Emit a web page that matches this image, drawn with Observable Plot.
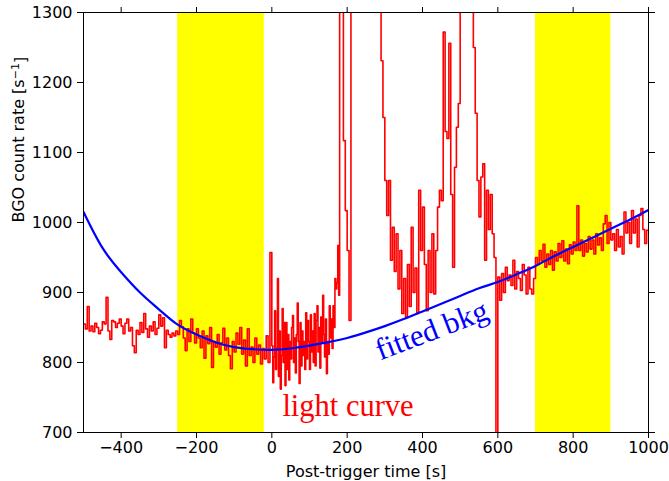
<!DOCTYPE html>
<html><head><meta charset="utf-8">
<script src="https://cdn.jsdelivr.net/npm/d3@7"></script>
<script src="https://cdn.jsdelivr.net/npm/@observablehq/plot@0.6"></script>
<style>body{margin:0;background:#fff} svg{display:block}</style>
</head><body><div id="chart"></div>
<script>
// ---- data ----
const xTicks = [-400, -200, 0, 200, 400, 600, 800, 1000];
const yTicks = [700, 800, 900, 1000, 1100, 1200, 1300];
const bandStart = [-250, 700];
const bandEnd = [-20, 900];

// light curve, segment A (-500..0, 5 s bins)
const lcStartA = -500, lcStepA = 5;
const lcValuesA = [855,848,880,845,852,844,856,850,841,846,858,855,893,845,833,860,858,850,856,862,
852,841,856,862,845,850,824,814,846,840,857,843,870,848,836,852,845,858,840,849,
868,852,864,821,846,840,836,842,838,845,840,860,851,835,817,848,830,862,842,828,
848,835,821,845,806,838,827,850,793,830,822,840,812,828,849,818,835,810,791,830,
815,842,826,850,812,832,795,848,810,822,800,835,812,825,798,820,805,838,800,957];
// segment B (0..180, 2.5 s bins)
const lcStartB = 0, lcStepB = 2.5;
const lcValuesB = [824,771,808,874,790,820,920,780,845,762,810,877,800,857,767,857,790,840,775,830,
805,850,867,800,835,785,840,885,830,770,857,795,845,810,830,790,871,805,860,830,
790,868,815,845,800,870,795,860,881,815,850,792,865,830,896,840,808,862,784,830,
812,881,835,862,820,881,850,920,905,914,967,896];
// segment C (180..1000, 5 s bins)
const lcStartC = 180, lcStepC = 5;
const lcValuesC = [1500,1450,1117,1017,960,860,1600,1750,1850,1900,1950,1950,1900,1850,1800,1750,1700,1600,1550,1500,
1450,1380,1231,1150,1060,1010,1060,946,993,930,984,905,960,870,920,865,940,880,993,900,
935,870,1046,960,1022,940,874,960,900,984,898,960,1022,1046,1031,1272,1130,1120,1256,1040,
936,1079,1136,1170,1500,1700,1800,1800,1700,1600,1450,1250,1156,1060,1008,1065,1084,946,1046,990,
1040,984,950,500,922,889,927,900,936,917,925,910,946,905,930,920,903,940,925,898,
936,905,898,920,950,940,960,945,969,936,955,940,960,932,958,945,970,950,974,945,
962,941,968,955,972,960,1024,960,975,952,970,958,980,962,975,955,984,968,978,960,
998,1010,970,1000,975,984,960,990,965,980,955,1015,985,1000,970,1017,985,1005,965,1010,
1020,990,970,989];

// fitted background
const bkgTime = [-500,-450,-400,-350,-300,-250,-200,-150,-100,-50,0,50,100,150,200,250,300,350,400,450,500,550,600,650,700,750,800,850,900,950,1000];
const bkgRate = [1015,964,929,900,876,854,840,829,822,819,818,820,824,829,835,843,852,862,873,884,895,906,915,926,938,952,965,978,991,1004,1018];

// ---- build tables ----
const lc = [];
function addSeg(start, step, values) {
  values.forEach((v, i) => lc.push({t: start + i * step, v}));
}
addSeg(lcStartA, lcStepA, lcValuesA);
addSeg(lcStartB, lcStepB, lcValuesB);
addSeg(lcStartC, lcStepC, lcValuesC);
lc.push({t: lcStartC + lcValuesC.length * lcStepC, v: lcValuesC[lcValuesC.length - 1]});

const bkg = bkgTime.map((t, i) => ({t, v: bkgRate[i]}));
const bands = bandStart.map((s, i) => ({x1: s, x2: bandEnd[i]}));

const fmtX = d => d < 0 ? "\u2212" + Math.abs(d) : String(d);
const fmtY = d => String(d);
const AX = {fontSize: 16, fontFamily: "DejaVu Sans", fill: "black"};
const yLabel = "BGO count rate [s\u207B\u00B9]";

const chart = Plot.plot({
  width: 669, height: 481,
  marginLeft: 83, marginRight: 21, marginTop: 12, marginBottom: 49,
  x: {domain: [-500, 1000], label: null},
  y: {domain: [700, 1300], label: null},
  style: {fontFamily: "DejaVu Sans", fontSize: "16px", color: "black", background: "white"},
  marks: [
    Plot.rect(bands, {x1: "x1", x2: "x2", fill: "yellow"}),
    Plot.line(lc, {x: "t", y: "v", stroke: "red", strokeWidth: 1.6, curve: "step-after", clip: true}),
    Plot.line(bkg, {x: "t", y: "v", stroke: "blue", strokeWidth: 2.2, curve: "natural", clip: true}),
    Plot.text(["light curve"], {text: d => d, x: 28, y: 724, textAnchor: "start", lineAnchor: "bottom",
      fill: "red", fontFamily: "Liberation Serif", fontSize: 30.5}),
    Plot.text(["fitted bkg"], {text: d => d, x: 434, y: 833, rotate: -21, textAnchor: "middle", lineAnchor: "bottom",
      fill: "blue", fontFamily: "Liberation Serif", fontSize: 30.5}),
    Plot.frame({stroke: "black", strokeWidth: 1}),
    Plot.axisX(xTicks, {anchor: "bottom", tickSize: 6, tickPadding: 3, tickFormat: fmtX, label: null, ...AX}),
    Plot.axisX(xTicks, {anchor: "top", tickSize: 6, tickFormat: () => "", label: null}),
    Plot.axisY(yTicks, {anchor: "left", tickSize: 6, tickPadding: 5, tickFormat: fmtY, label: null, ...AX}),
    Plot.axisY(yTicks, {anchor: "right", tickSize: 6, tickFormat: () => "", label: null}),
    Plot.text(["Post-trigger time [s]"], {text: d => d, frameAnchor: "bottom", dy: 44, lineAnchor: "bottom", ...AX}),
    Plot.text([yLabel], {text: d => d, frameAnchor: "left", dx: -65, rotate: -90, lineAnchor: "middle", ...AX})
  ]
});
document.getElementById("chart").appendChild(chart);

// render the "−1" exponent of the y label as a proper superscript
d3.select(chart).selectAll("text").filter(function () { return this.textContent === yLabel; })
  .each(function () {
    const t = d3.select(this);
    t.text("BGO count rate [s");
    t.append("tspan").attr("dy", "-0.45em").attr("font-size", "11px").text("\u22121");
    t.append("tspan").attr("dy", "0.45em").text("]");
  });
</script>
</body></html>
